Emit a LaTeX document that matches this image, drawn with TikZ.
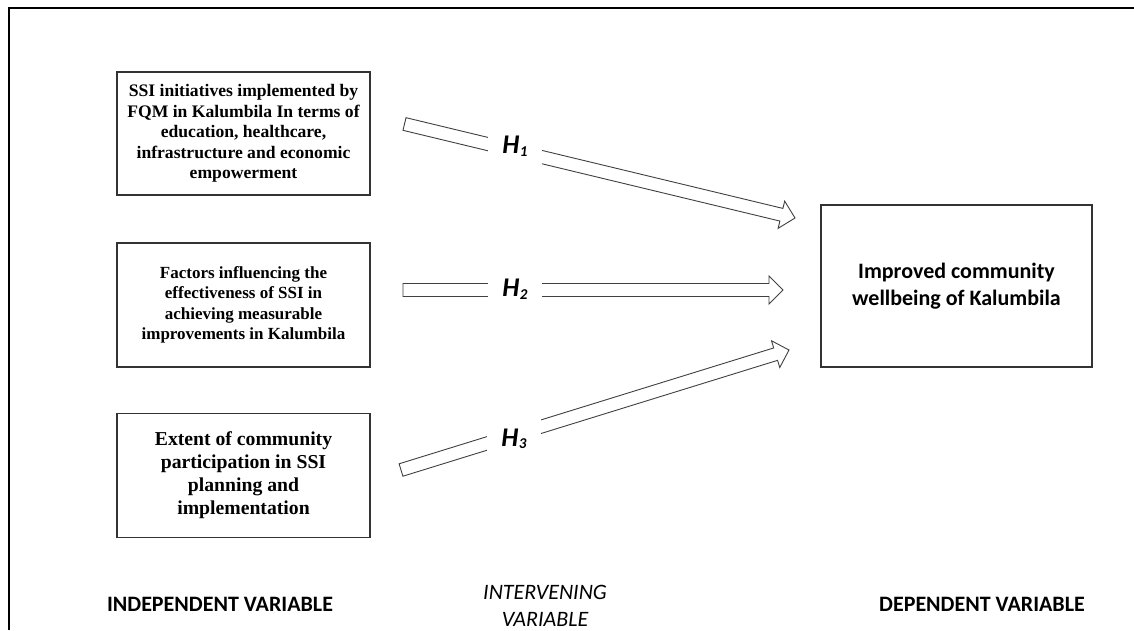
\documentclass[tikz,border=0pt]{standalone}
\usepackage{fontspec}
\setmainfont{Liberation Serif}
\newfontfamily\calibri{Carlito}
\usetikzlibrary{calc}
\tikzset{
  varbox/.style={draw=black!80, line width=1.6pt, minimum width=253, minimum height=124, inner sep=0pt, align=center, font=\bfseries\fontsize{17}{20.5}\selectfont},
  hollowarrow/.style={draw=black!75, line width=0.9pt, fill=white, line join=miter},
  hlabel/.style={fill=white, minimum width=54, minimum height=63, inner sep=0pt, font=\calibri\bfseries\itshape\fontsize{27}{27}\selectfont},
  caption/.style={align=center, font=\calibri\fontsize{22}{27}\selectfont}
}
% hollow block arrow from tail coordinate to tip coordinate
\def\blockarrow(#1)(#2){%
  \coordinate (#1hb) at ($(#2)!14pt!(#1)$);
  \draw[hollowarrow] ($(#1)!6.5pt!90:(#2)$) -- ($(#1hb)!6.5pt!90:(#2)$) -- ($(#1hb)!14pt!90:(#2)$) -- (#2)
    -- ($(#1hb)!14pt!-90:(#2)$) -- ($(#1hb)!6.5pt!-90:(#2)$) -- ($(#1)!6.5pt!-90:(#2)$) -- cycle;
}
\def\hsub#1{H\kern0.5pt\raisebox{-2.5pt}{\fontsize{15}{15}\selectfont #1}}

\begin{document}
\begin{tikzpicture}[x=1pt, y=-1pt]
  %%%%% START %%%%%
  \useasboundingbox (0,0) rectangle (1134,630);
  \draw[line width=1.4pt] (9,630) -- (9,8) -- (1134,8);

  % independent variables
  \node[varbox, minimum height=123, font=\bfseries\fontsize{17.6}{20.5}\selectfont] (ssi) at (243.5,133.5) {SSI initiatives implemented by\\FQM in Kalumbila In terms of\\education, healthcare,\\infrastructure and economic\\empowerment};
  \node[varbox] (factors) at (243.5,305) {Factors influencing the\\effectiveness of SSI in\\achieving measurable\\improvements in Kalumbila};
  \node[varbox, font=\bfseries\fontsize{19.7}{23}\selectfont] (extent) at (243.5,475.5) {Extent of community\\participation in SSI\\planning and\\implementation};

  % dependent variable
  \node[varbox, minimum width=271, minimum height=162, font=\calibri\bfseries\fontsize{22}{27}\selectfont] (wellbeing) at (956.5,286) {Improved community\\wellbeing of Kalumbila};

  % hypotheses arrows
  \coordinate (t1) at (404.5,124);
  \coordinate (p1) at (795,218);
  \coordinate (t2) at (403,290);
  \coordinate (p2) at (783,290);
  \coordinate (t3) at (401,470);
  \coordinate (p3) at (789,350);
  \blockarrow(t1)(p1)
  \blockarrow(t2)(p2)
  \blockarrow(t3)(p3)

  \node[hlabel] (h1) at (515,146) {\hsub{1}};
  \node[hlabel] (h2) at (515,289) {\hsub{2}};
  \node[hlabel] (h3) at (514,439) {\hsub{3}};

  % captions
  \node[caption, font=\calibri\bfseries\fontsize{22}{27}\selectfont] (indep) at (220,604) {INDEPENDENT VARIABLE};
  \node[caption, font=\calibri\itshape\fontsize{22}{27}\selectfont] (interv) at (545,606) {INTERVENING\\VARIABLE};
  \node[caption, font=\calibri\bfseries\fontsize{22}{27}\selectfont] (dep) at (982,604) {DEPENDENT VARIABLE};
  %%%%% END %%%%%
\end{tikzpicture}
\end{document}
